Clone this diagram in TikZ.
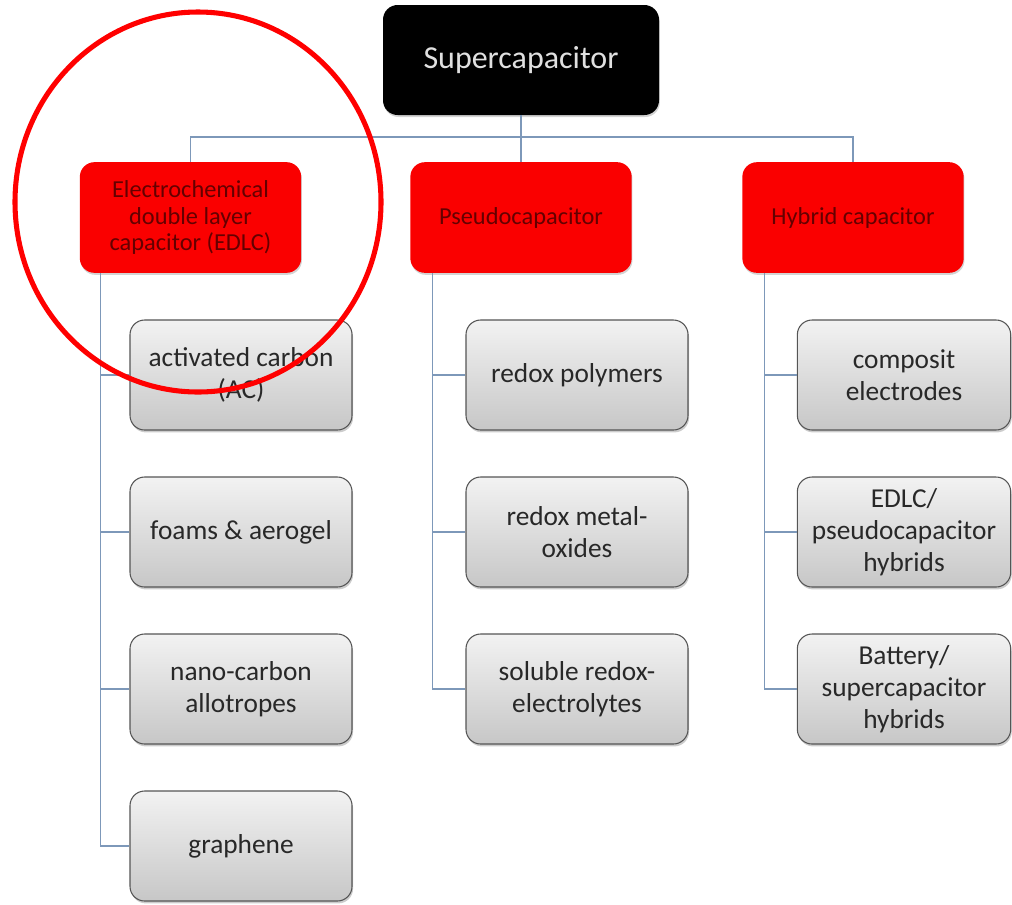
\documentclass[tikz,border=0pt]{standalone}
\usepackage{fontspec}
\setmainfont{Carlito}
\usetikzlibrary{shadows}
\definecolor{linkblue}{RGB}{125,152,185}
\definecolor{boxedge}{RGB}{85,85,85}
\definecolor{boxtext}{RGB}{40,40,40}
\definecolor{redtext}{RGB}{100,0,0}
\definecolor{redfill}{RGB}{250,0,0}
\begin{document}
\begin{tikzpicture}[x=0.75pt,y=-0.75pt,
  rootbox/.style={rectangle, rounded corners=11pt, fill=black,
    text=white!88!black, minimum width=207pt, minimum height=82.5pt,
    inner sep=0pt, font=\fontsize{24}{28}\selectfont,
    drop shadow={shadow xshift=0.6pt, shadow yshift=-1.5pt, opacity=0.35}},
  typebox/.style={rectangle, rounded corners=11pt, fill=redfill,
    text=redtext, minimum width=166pt, minimum height=83pt,
    inner sep=0pt, align=center, font=\fontsize{18.3}{20}\selectfont,
    drop shadow={shadow xshift=0.6pt, shadow yshift=-1.5pt, opacity=0.35}},
  itembox/.style={rectangle, rounded corners=11pt, draw=boxedge, line width=0.8pt,
    top color=white!95!black, bottom color=white!78!black,
    text=boxtext, minimum width=166.5pt, minimum height=82.5pt,
    inner sep=0pt, align=center, font=\fontsize{20.5}{24}\selectfont,
    drop shadow={shadow xshift=0.8pt, shadow yshift=-1.8pt, opacity=0.4}},
  link/.style={draw=linkblue, line width=1.1pt},
]
\useasboundingbox (0,0) rectangle (1012,904);

% root
\node[rootbox] (root) at (521,60) {Supercapacitor};

% capacitor types
\node[typebox] (edlc)   at (190.5,217.5) {Electrochemical\\double layer\\capacitor (EDLC)};
\node[typebox] (pseudo) at (521,217.5) {Pseudocapacitor};
\node[typebox] (hybrid) at (853,217.5) {Hybrid capacitor};

% EDLC electrode materials
\node[itembox] (ac)    at (241,375) {activated carbon\\(AC)};
\node[itembox] (foam)  at (241,532) {foams \& aerogel};
\node[itembox] (nano)  at (241,689) {nano-carbon\\allotropes};
\node[itembox] (graph) at (241,846) {graphene};

% pseudocapacitive materials
\node[itembox] (poly)  at (577,375) {redox polymers};
\node[itembox] (oxide) at (577,532) {redox metal-\\oxides};
\node[itembox] (elyte) at (577,689) {soluble redox-\\electrolytes};

% hybrid concepts
\node[itembox, minimum width=160pt] (comp) at (904,375) {composit\\electrodes};
\node[itembox, minimum width=160pt] (ep)   at (904,532) {EDLC/\\pseudocapacitor\\hybrids};
\node[itembox, minimum width=160pt] (bs)   at (904,689) {Battery/\\supercapacitor\\hybrids};

% tree connectors
\coordinate (bus) at (521,137);
\draw[link] (root.south) -- (bus);
\draw[link] (edlc.north) |- (bus) -| (hybrid.north);
\draw[link] (bus) -- (pseudo.north);

\coordinate (edlcT)   at ([xshift=15.75pt]edlc.south west);
\coordinate (pseudoT) at ([xshift=17pt]pseudo.south west);
\coordinate (hybridT) at ([xshift=17pt]hybrid.south west);
\foreach \c in {ac,foam,nano,graph} \draw[link] (edlcT) |- (\c.west);
\foreach \c in {poly,oxide,elyte} \draw[link] (pseudoT) |- (\c.west);
\foreach \c in {comp,ep,bs} \draw[link] (hybridT) |- (\c.west);

% highlight ring
\draw[draw=red, line width=3.8pt] (198,202) ellipse [x radius=183, y radius=190];
\end{tikzpicture}
\end{document}
